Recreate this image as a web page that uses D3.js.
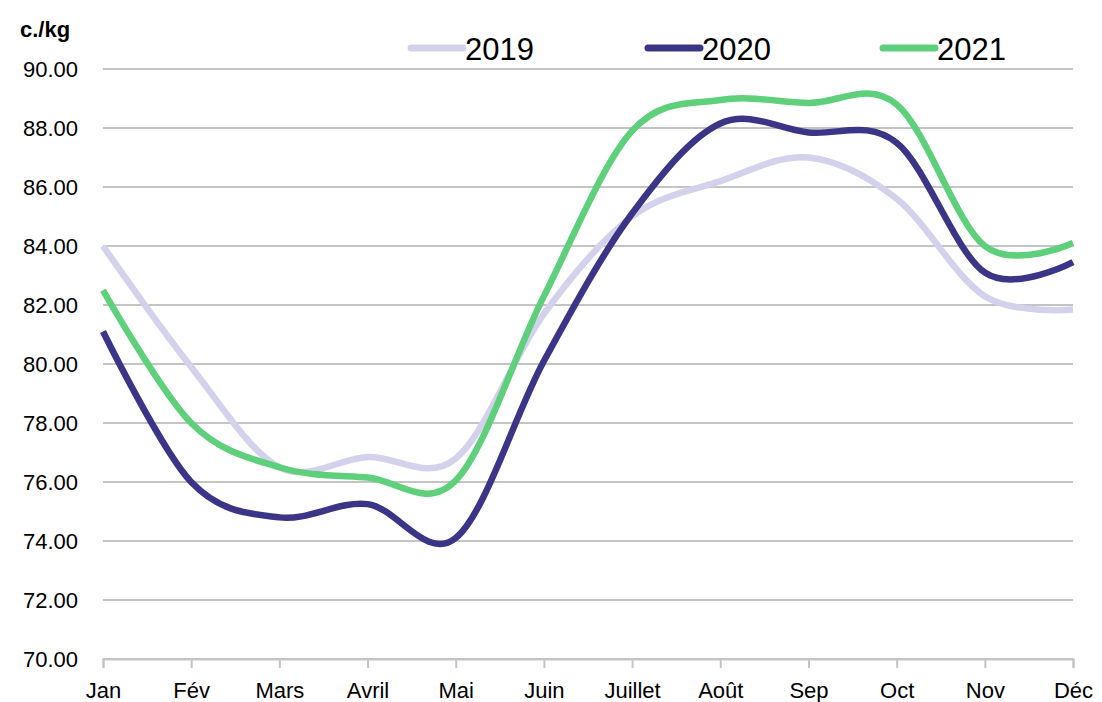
<!DOCTYPE html>
<html>
<head>
<meta charset="utf-8">
<script src="https://cdn.jsdelivr.net/npm/d3@7"></script>
<style>
  body { margin: 0; background: #fff; }
  text { font-family: "Liberation Sans", Arial, sans-serif; fill: #000; }
</style>
</head>
<body>
<script>
var months = ["Jan","Fév","Mars","Avril","Mai","Juin","Juillet","Août","Sep","Oct","Nov","Déc"];
var years = ["2019","2020","2021"];
var v2019 = [84.0, 79.9, 76.5, 76.85, 76.8, 81.7, 85.0, 86.2, 87.0, 85.6, 82.3, 81.85];
var v2020 = [81.1, 76.0, 74.8, 75.25, 74.1, 80.1, 85.1, 88.15, 87.85, 87.5, 83.1, 83.45];
var v2021 = [82.5, 78.0, 76.5, 76.15, 76.05, 82.3, 87.9, 88.95, 88.85, 88.8, 84.0, 84.1];
var yTicks = [70, 72, 74, 76, 78, 80, 82, 84, 86, 88, 90];

var series = [v2019, v2020, v2021];
var colors = ["#d4d1ec", "#3a3586", "#5ecf7a"];

var W = 1102, H = 702;
var svg = d3.select("body").append("svg").attr("width", W).attr("height", H);

// point scale so first/last month sit on the axis ends
var x = d3.scalePoint().domain(months).range([103, 1073]);
var y = d3.scaleLinear().domain([70, 90]).range([659, 69]);

// gridlines
svg.append("g").selectAll("line")
    .data(yTicks)
    .enter().append("line")
      .attr("x1", 103).attr("x2", 1073)
      .attr("y1", function(d){ return y(d); })
      .attr("y2", function(d){ return y(d); })
      .attr("stroke", "#c4c4c4")
      .attr("stroke-width", 2);

// y labels
var yAxis = d3.axisLeft(y).tickValues(yTicks).tickFormat(d3.format(".2f")).tickSize(0).tickPadding(25);
var gy = svg.append("g").attr("transform", "translate(103,0)").call(yAxis);
gy.select(".domain").remove();
gy.selectAll("text").attr("font-size", 22).attr("font-family", "Liberation Sans, Arial, sans-serif").attr("fill", "#000");

// x axis
var xAxis = d3.axisBottom(x).tickSize(9).tickPadding(14);
var gx = svg.append("g").attr("transform", "translate(0,659)").call(xAxis);
gx.select(".domain").attr("stroke", "#c4c4c4").attr("stroke-width", 2);
gx.selectAll(".tick line").attr("stroke", "#c4c4c4").attr("stroke-width", 2);
gx.selectAll("text").attr("font-size", 22).attr("font-family", "Liberation Sans, Arial, sans-serif").attr("fill", "#000");

// unit label
svg.append("text")
    .attr("x", 20).attr("y", 37)
    .attr("font-size", 22).attr("font-weight", "bold")
    .text("c./kg");

// the three year lines, smoothed like the original
var line = d3.line()
    .x(function(d, i){ return x(months[i]); })
    .y(function(d){ return y(d); })
    .curve(d3.curveCatmullRom.alpha(0));

svg.append("g").selectAll("path")
    .data(series)
    .enter().append("path")
      .attr("d", line)
      .attr("fill", "none")
      .attr("stroke", function(d, i){ return colors[i]; })
      .attr("stroke-width", 6.5)
      .attr("stroke-linejoin", "round");

// legend
var legendX = [408, 645, 880];
var lg = svg.append("g").selectAll("g")
    .data(years)
    .enter().append("g")
      .attr("transform", function(d, i){ return "translate(" + legendX[i] + ",48)"; });

lg.append("line")
    .attr("x1", 3).attr("x2", 55)
    .attr("y1", 0).attr("y2", 0)
    .attr("stroke", function(d, i){ return colors[i]; })
    .attr("stroke-width", 7)
    .attr("stroke-linecap", "round");

lg.append("text")
    .attr("x", 57).attr("y", 12)
    .attr("font-size", 31)
    .text(function(d){ return d; });
</script>
</body>
</html>
